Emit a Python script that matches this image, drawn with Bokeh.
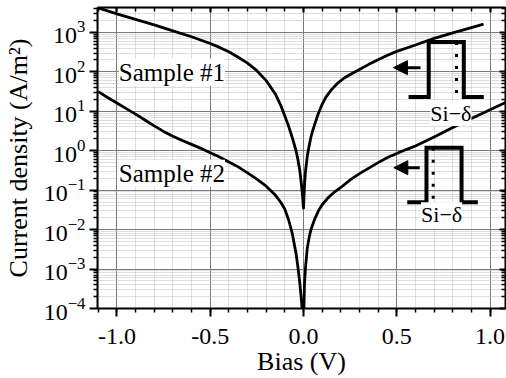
from bokeh.plotting import figure
from bokeh.models import (LinearAxis, LogAxis, Range1d, Arrow, NormalHead, Label,
                          FixedTicker, SingleIntervalTicker, PrintfTickFormatter, LogTickFormatter)
from bokeh.embed import file_html
from bokeh.resources import INLINE

# ---- data ----
s1_x = [-1.1, -1.0, -0.9, -0.8, -0.7, -0.6, -0.5, -0.45, -0.4, -0.35, -0.3, -0.25, -0.2, -0.15,
        -0.12, -0.1, -0.08, -0.06, -0.04, -0.03, -0.02, -0.01, -0.005, 0.0,
        0.005, 0.01, 0.02, 0.03, 0.04, 0.05, 0.06, 0.08, 0.1, 0.12, 0.15, 0.18, 0.22, 0.26,
        0.3, 0.35, 0.4, 0.45, 0.5, 0.6, 0.7, 0.8, 0.9, 0.965]
s1_y = [4170, 2950, 2140, 1550, 1100, 776, 525, 417, 324, 234, 166, 107, 60, 27,
        13.5, 7.6, 4.2, 2.14, 1.0, 0.60, 0.32, 0.126, 0.071, 0.035,
        0.126, 0.28, 0.71, 1.32, 2.24, 3.31, 4.68, 8.9, 15.1, 22.9, 35.5, 50.1, 70.8, 91.2,
        115, 155, 204, 263, 331, 479, 708, 977, 1318, 1622]

s2_x = [-1.1, -1.05, -1.0, -0.95, -0.9, -0.85, -0.8, -0.75, -0.7, -0.65, -0.6, -0.55, -0.5,
        -0.45, -0.4, -0.35, -0.3, -0.25, -0.2, -0.15, -0.12, -0.1, -0.08, -0.06, -0.04, -0.03,
        -0.02, -0.01, 0.0, 0.005, 0.01, 0.02, 0.03, 0.04, 0.06, 0.08, 0.1, 0.13, 0.16, 0.2,
        0.25, 0.3, 0.35, 0.4, 0.45, 0.5, 0.55, 0.6, 0.7, 0.8, 0.9, 1.0, 1.09]
s2_y = [31.6, 22.4, 16.2, 11.7, 8.5, 6.0, 4.27, 3.09, 2.34, 1.82, 1.45, 1.15, 0.89,
        0.69, 0.52, 0.39, 0.275, 0.19, 0.126, 0.074, 0.048, 0.033, 0.0178, 0.0079, 0.0025, 0.00112,
        0.00045, 0.00014, 0.000032, 0.0004, 0.001, 0.0033, 0.0063, 0.01, 0.0186, 0.030, 0.0427,
        0.063, 0.085, 0.117, 0.182, 0.263, 0.363, 0.50, 0.676, 0.851, 1.07, 1.32, 2.24, 3.89,
        6.6, 11.0, 17.4]

# band-diagram insets (data coordinates)
ins1_x = [0.563, 0.671, 0.671, 0.859, 0.859, 0.966]
ins1_y = [23.2, 23.2, 569, 569, 23.2, 23.2]
ins1_dot_x = [0.820, 0.820]
ins1_dot_y = [569, 23.2]
ins1_arrow_x = [0.627, 0.482]
ins1_arrow_y = [128, 128]
ins1_label = (0.79, 8.8)

ins2_x = [0.556, 0.659, 0.659, 0.847, 0.847, 0.934]
ins2_y = [0.0497, 0.0497, 1.19, 1.19, 0.0497, 0.0497]
ins2_dot_x = [0.695, 0.695]
ins2_dot_y = [1.19, 0.0497]
ins2_arrow_x = [0.623, 0.484]
ins2_arrow_y = [0.372, 0.372]
ins2_label = (0.74, 0.0237)

sample_labels = ["Sample #1", "Sample #2"]
sample_pos = [(-0.99, 97.7), (-0.99, 0.27)]

x_ticks_interval = 0.5
y_decades = list(range(-4, 4))

FONT = "Liberation Serif"

p = figure(width=506, height=378, x_range=Range1d(-1.104, 1.0825),
           y_range=Range1d(1e-4, 4285), y_axis_type="log",
           output_backend="svg", toolbar_location=None,
           min_border_left=97, min_border_right=1, min_border_top=7, min_border_bottom=69)
p.background_fill_color = "white"
p.border_fill_color = "white"
p.outline_line_color = "black"
p.outline_line_width = 1

xticker = SingleIntervalTicker(interval=x_ticks_interval, num_minor_ticks=5)
yticker = FixedTicker(ticks=[10.0 ** e for e in y_decades],
                      minor_ticks=[m * 10.0 ** e for e in y_decades for m in range(2, 10)])

p.xaxis.ticker = xticker
p.xaxis.formatter = PrintfTickFormatter(format="%.1f")
p.yaxis.ticker = yticker
p.yaxis.formatter = LogTickFormatter()
p.xgrid.ticker = xticker
p.ygrid.ticker = yticker

for ax in (p.xaxis[0], p.yaxis[0]):
    ax.axis_line_width = 2
    ax.axis_line_color = "black"
    ax.major_tick_line_width = 2
    ax.minor_tick_line_width = 1.5
    ax.major_tick_in = 0
    ax.minor_tick_in = 0
    ax.major_tick_out = 8
    ax.minor_tick_out = 4
    ax.major_label_text_font = FONT
    ax.major_label_text_font_size = "24px"
    ax.major_label_text_color = "black"
    ax.axis_label_text_font = FONT
    ax.axis_label_text_font_size = "26px"
    ax.axis_label_text_font_style = "normal"
    ax.axis_label_text_color = "black"

p.xaxis.axis_label = "Bias (V)"
p.yaxis.axis_label = "Current density (A/m²)"
p.xaxis.major_label_standoff = 12
p.xaxis.axis_label_standoff = 0
p.yaxis.major_label_standoff = 4
p.yaxis.axis_label_standoff = 8

top_ax = LinearAxis(ticker=xticker, major_label_text_font_size="1px", major_label_text_color=None,
                    major_label_standoff=0,
                    major_tick_in=5, major_tick_out=0, minor_tick_in=4, minor_tick_out=0,
                    axis_line_width=2, major_tick_line_width=2, minor_tick_line_width=1.5)
right_ax = LogAxis(ticker=yticker, major_label_text_font_size="1px", major_label_text_color=None,
                   major_label_standoff=0,
                   major_tick_in=6, major_tick_out=0, minor_tick_in=4, minor_tick_out=0,
                   axis_line_width=2, major_tick_line_width=2, minor_tick_line_width=1.5)
p.add_layout(top_ax, "above")
p.add_layout(right_ax, "right")

for g in (p.xgrid[0], p.ygrid[0]):
    g.grid_line_color = "#7a7a7a"
    g.grid_line_width = 1
    g.minor_grid_line_color = "#bdbdbd"
    g.minor_grid_line_width = 1
    g.minor_grid_line_dash = "1 1"

# curves
p.line(s1_x, s1_y, line_color="black", line_width=2.8, line_join="round")
p.line(s2_x, s2_y, line_color="black", line_width=2.8, line_join="round")

# insets
for ix, iy, dx, dy, ax_, ay_, lab in (
        (ins1_x, ins1_y, ins1_dot_x, ins1_dot_y, ins1_arrow_x, ins1_arrow_y, ins1_label),
        (ins2_x, ins2_y, ins2_dot_x, ins2_dot_y, ins2_arrow_x, ins2_arrow_y, ins2_label)):
    p.line(ix, iy, line_color="black", line_width=4, line_join="miter")
    p.line(dx, dy, line_color="black", line_width=3, line_dash="3 9")
    p.add_layout(Arrow(end=NormalHead(size=14, fill_color="black", line_color="black"),
                       x_start=ax_[0], y_start=ay_[0], x_end=ax_[1], y_end=ay_[1],
                       line_width=3, line_color="black"))
    p.add_layout(Label(x=lab[0], y=lab[1], text="Si−δ", text_font=FONT, text_font_size="22px",
                       text_align="center", text_baseline="middle", text_color="black",
                       background_fill_color="white"))

for txt, (lx, ly) in zip(sample_labels, sample_pos):
    p.add_layout(Label(x=lx, y=ly, text=txt, text_font=FONT, text_font_size="25px",
                       text_align="left", text_baseline="middle", text_color="black",
                       background_fill_color="white"))

open("out.html", "w").write(file_html(p, INLINE))
